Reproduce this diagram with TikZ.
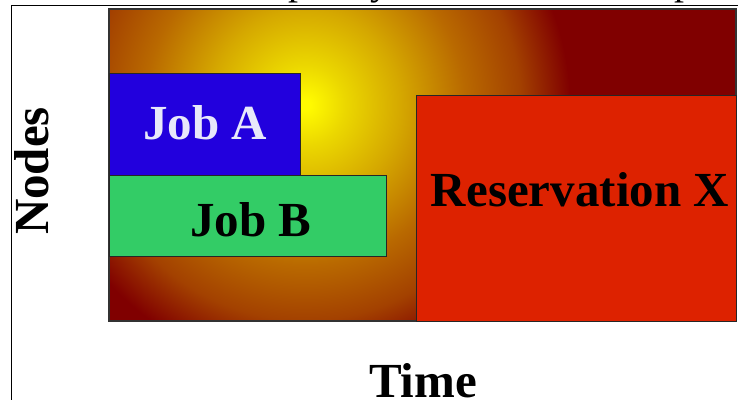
\documentclass[tikz,border=0pt]{standalone}
\usepackage{fontspec}
\setmainfont{Liberation Serif}
\definecolor{dred}{RGB}{128,0,0}
\definecolor{glowyellow}{RGB}{255,250,0}
\definecolor{glowa}{RGB}{235,215,0}
\definecolor{glowb}{RGB}{213,168,0}
\definecolor{glowc}{RGB}{185,105,0}
\definecolor{glowd}{RGB}{163,65,0}
\definecolor{jobablue}{RGB}{34,0,221}
\definecolor{jobatext}{RGB}{232,232,250}
\definecolor{jobbgreen}{RGB}{51,204,102}
\definecolor{resred}{RGB}{221,34,0}
\pgfdeclareradialshading{glow}{\pgfpoint{0bp}{0bp}}{color(0bp)=(glowyellow); color(0.5bp)=(glowyellow); color(3.8bp)=(glowa); color(9bp)=(glowb); color(15.1bp)=(glowc); color(20.3bp)=(glowd); color(25bp)=(dred); color(100bp)=(dred)}
\begin{document}
\begin{tikzpicture}[x=1pt,y=-1pt,
  lbl/.style={font=\fontsize{49}{55}\selectfont\bfseries, inner sep=0pt, anchor=base},
  frag/.style={font=\fontsize{40}{44}\selectfont, inner sep=0pt, anchor=base},
  box/.style={draw=black!85, line width=1pt}]
\useasboundingbox (0,0) rectangle (738,399);
\fill[white] (0,0) rectangle (738,399);
% descenders of the cut-off line above
\node[frag] (f1) at (-4,-6) {y};
\node[frag] (f2) at (298,-6) {p};
\node[frag] (f3) at (380,-6) {y};
\node[frag] (f4) at (684,-6) {p};
% outer frame
\draw[line width=1.2pt] (11.5,410) -- (11.5,5.5) -- (750,5.5);
% background with radial glow
\fill[dred] (109,9) rectangle (736,321);
\begin{scope}
  \clip (109,9) rectangle (736,321);
  \shade[shading=glow] (305,105) circle (265pt);
\end{scope}
\draw[black!80, line width=1.5pt] (109,9) rectangle (736,321);
% boxes
\draw[box, fill=jobablue] (109,73) rectangle (300,175);
\draw[box, fill=jobbgreen] (109,175) rectangle (386,256.5);
\draw[box, fill=resred] (416.5,95.5) rectangle (736,321);
% labels
\node[lbl, text=jobatext] (joba) at (205,139) {Job A};
\node[lbl] (jobb) at (251,236) {Job B};
\node[lbl] (resx) at (580,206) {Reservation X};
\node[lbl] (time) at (423,397) {Time};
\node[lbl, anchor=center, rotate=90] (nodes) at (32,171) {Nodes};
\end{tikzpicture}
\end{document}
